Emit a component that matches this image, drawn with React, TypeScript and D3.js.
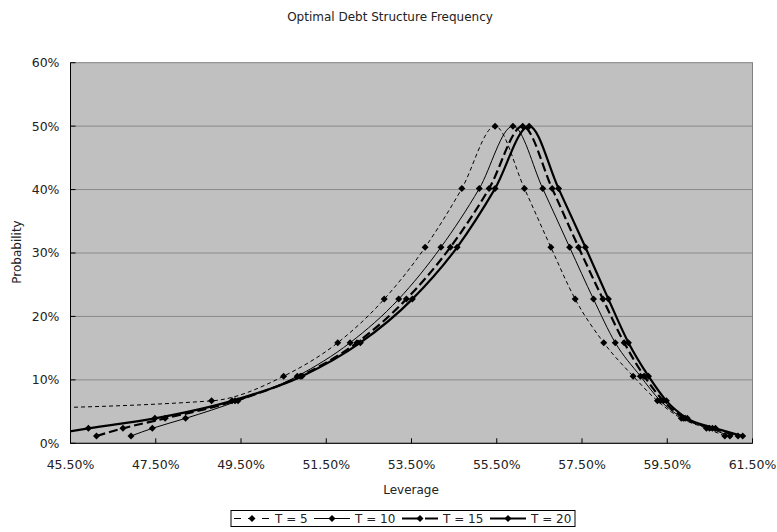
import React from "react";
import * as d3 from "d3";

// ---- data ----
const seriesNames = ["T = 5", "T = 10", "T = 15", "T = 20"];
const probability = [1.15, 2.36, 3.93, 6.69, 10.58, 15.86, 22.73, 30.9, 40.15, 50.0, 40.15, 30.9, 22.73, 15.86, 10.58, 6.69, 3.93, 2.36, 1.15];
const leverageT5 = [30.0, 34.0, 37.0, 48.81, 50.5, 51.77, 52.86, 53.82, 54.68, 55.46, 56.15, 56.77, 57.34, 58.01, 58.7, 59.27, 59.83, 60.42, 60.85];
const leverageT10 = [46.92, 47.42, 48.2, 49.43, 50.82, 52.06, 53.2, 54.19, 55.09, 55.88, 56.58, 57.21, 57.77, 58.28, 58.87, 59.34, 59.88, 60.49, 60.97];
const leverageT15 = [46.11, 46.73, 47.72, 49.36, 50.89, 52.22, 53.38, 54.41, 55.32, 56.11, 56.8, 57.42, 57.99, 58.49, 58.96, 59.41, 59.92, 60.56, 61.16];
const leverageT20 = [44.85, 45.92, 47.48, 49.29, 50.93, 52.3, 53.52, 54.57, 55.46, 56.26, 56.95, 57.58, 58.12, 58.59, 59.06, 59.48, 59.97, 60.63, 61.27];
const xTicks = [45.5, 47.5, 49.5, 51.5, 53.5, 55.5, 57.5, 59.5, 61.5];
const yTicks = [0, 10, 20, 30, 40, 50, 60];

const title = "Optimal Debt Structure Frequency";
const xTitle = "Leverage";
const yTitle = "Probability";

// ---- styles ----
const styles = [
  { width: 1, dash: "4,3" },
  { width: 1, dash: "" },
  { width: 2.2, dash: "9,4" },
  { width: 2.2, dash: "" },
];
const legendDash = ["7,7", "", "17,6", ""];
const legendLayout = [
  [234, 270, 275],
  [314, 350, 355],
  [402, 438, 443],
  [490, 526, 531],
];

const FONT = "DejaVu Sans, Verdana, sans-serif";

export default function App() {
  const W = 777, H = 532;
  const left = 70.5, right = 752.5, top = 62.7, bottom = 443.3;
  const x = d3.scaleLinear().domain([45.5, 61.5]).range([left, right]);
  const y = d3.scaleLinear().domain([0, 60]).range([bottom, top]);
  const allSeries = [leverageT5, leverageT10, leverageT15, leverageT20];
  const line = d3
    .line<[number, number]>()
    .x((d) => x(d[0]))
    .y((d) => y(d[1]))
    .curve(d3.curveMonotoneX);
  const diamond = "M0,-3.5L3.5,0L0,3.5L-3.5,0Z";
  const fmtX = (v: number) => v.toFixed(2) + "%";

  return (
    <svg width={W} height={H} style={{ position: "absolute", left: 0, top: 0, background: "#fff" }} fontFamily={FONT}>
      <defs>
        <clipPath id="plotclip">
          <rect x={left} y={top} width={right - left} height={bottom - top} />
        </clipPath>
      </defs>
      <text x={390} y={21} textAnchor="middle" fontSize={12} fill="#222">{title}</text>
      <rect x={left} y={top} width={right - left} height={bottom - top} fill="#c0c0c0" stroke="#808080" strokeWidth={1} />
      {yTicks.filter((t) => t > 0 && t < 60).map((t) => (
        <line key={"g" + t} x1={left} x2={right} y1={y(t)} y2={y(t)} stroke="#8a8a8a" strokeWidth={1} />
      ))}
      {/* axes */}
      <line x1={left} x2={left} y1={top} y2={bottom} stroke="#000" />
      <line x1={left} x2={right} y1={bottom} y2={bottom} stroke="#000" />
      {yTicks.map((t) => (
        <g key={"y" + t}>
          <line x1={left} x2={left + 5} y1={y(t)} y2={y(t)} stroke="#000" />
          <text x={left - 11} y={y(t)} dy="0.35em" textAnchor="end" fontSize={12.5} fill="#222">{t + "%"}</text>
        </g>
      ))}
      {xTicks.map((t) => (
        <g key={"x" + t}>
          <line x1={x(t)} x2={x(t)} y1={bottom} y2={bottom - 5} stroke="#000" />
          <text x={x(t)} y={bottom + 26} textAnchor="middle" fontSize={12.5} fill="#222">{fmtX(t)}</text>
        </g>
      ))}
      <text x={411} y={494} textAnchor="middle" fontSize={12} fill="#222">{xTitle}</text>
      <text transform={`translate(21,252) rotate(-90)`} textAnchor="middle" fontSize={12} fill="#222">{yTitle}</text>
      <g clipPath="url(#plotclip)">
        {allSeries.map((lev, i) => {
          const pts = lev.map((v, j) => [v, probability[j]] as [number, number]);
          return (
            <g key={"s" + i}>
              <path d={line(pts) || ""} fill="none" stroke="#000" strokeWidth={styles[i].width} strokeDasharray={styles[i].dash} />
              {pts.map((p, j) => (
                <path key={j} d={diamond} transform={`translate(${x(p[0])},${y(p[1])})`} fill="#000" />
              ))}
            </g>
          );
        })}
      </g>
      {/* legend */}
      <rect x={231} y={510.5} width={344} height={16} fill="#fff" stroke="#000" strokeWidth={1} />
      {seriesNames.map((name, i) => {
        const [a, b, tx] = legendLayout[i];
        const cy = 518.5;
        return (
          <g key={"l" + i}>
            <line x1={a} x2={b} y1={cy} y2={cy} stroke="#000" strokeWidth={styles[i].width} strokeDasharray={legendDash[i]} />
            <path d={diamond} transform={`translate(${(a + b) / 2},${cy})`} fill="#000" />
            <text x={tx} y={cy} dy="0.36em" fontSize={12} fill="#222" style={{ whiteSpace: "pre" }}>{name}</text>
          </g>
        );
      })}
    </svg>
  );
}
